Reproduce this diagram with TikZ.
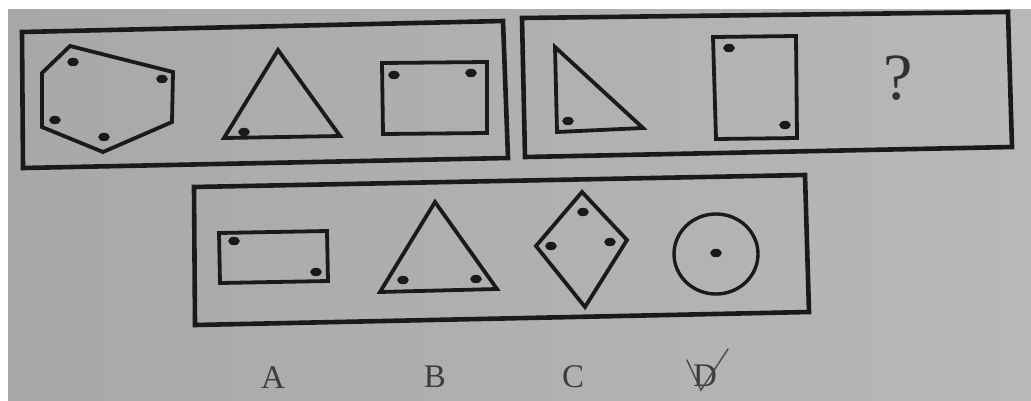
\documentclass[tikz,border=0pt]{standalone}
\usepackage{fontspec}
\setmainfont{Liberation Serif}
\definecolor{paperL}{RGB}{168,168,168}
\definecolor{paperR}{RGB}{184,184,184}
\definecolor{ink}{RGB}{26,26,26}
\tikzset{
  frame/.style={draw=ink, line width=4.6pt, line join=miter},
  outline/.style={draw=ink, line width=3.8pt, line join=miter},
  dot/.style={fill=ink, draw=none},
  lab/.style={text=ink!85, font=\fontsize{33}{33}\selectfont, inner sep=0pt}
}
\newcommand{\spot}[2]{\fill[dot] (#1,#2) ellipse [x radius=5.8pt, y radius=4.2pt];}
\begin{document}
\begin{tikzpicture}[x=1pt,y=-1pt]
\useasboundingbox (0,0) rectangle (1031,400);
% background (photo of paper)
\fill[white] (0,0) rectangle (1031,400);
\shade[left color=paperL, right color=paperR] (8,9) rectangle (1031,400);

% ---- top-left panel ----
\draw[frame] (22,32) -- (503,21) -- (508,158) -- (23,168) -- cycle;
\draw[outline] (70,46) -- (173,72) -- (172,122) -- (103,152) -- (42,127) -- (42,73) -- cycle;
\spot{73}{62}\spot{162}{79}\spot{55}{120}\spot{104}{137}
\draw[outline] (278,50) -- (340,136) -- (224,138) -- cycle;
\spot{244}{132}
\draw[outline] (382,63) -- (487,62) -- (487,133) -- (383,134) -- cycle;
\spot{394}{75}\spot{471}{73}

% ---- top-right panel ----
\draw[frame] (522,18) -- (1008,12) -- (1012,147) -- (525,157) -- cycle;
\draw[outline] (555,47) -- (643,128) -- (557,132) -- cycle;
\spot{568}{121}
\draw[outline] (713,37) -- (796,36) -- (797,138) -- (716,139) -- cycle;
\spot{729}{48}\spot{785}{125}
\node[text=ink!90, font=\fontsize{66}{66}\selectfont, inner sep=0pt] (q) at (898,78) {?};

% ---- answer panel ----
\draw[frame] (194,187) -- (805,175) -- (809,312) -- (195,325) -- cycle;
\draw[outline] (219,233) -- (327,231) -- (328,281) -- (220,283) -- cycle;
\spot{234}{241}\spot{316}{272}
\draw[outline] (435,202) -- (497,289) -- (380,292) -- cycle;
\spot{403}{280}\spot{476}{279}
\draw[outline] (582,192) -- (627,240) -- (585,307) -- (536,246) -- cycle;
\spot{583}{212}\spot{551}{246}\spot{610}{242}
\draw[draw=ink, line width=3.4pt] (716,254) ellipse [x radius=42pt, y radius=40pt];
\spot{716}{253}

% ---- labels ----
\node[lab] (la) at (273,378) {A};
\node[lab] (lb) at (435,377) {B};
\node[lab] (lc) at (573,377) {C};
\node[lab] (ld) at (705,376) {D};
\draw[ink!80, line width=1.4pt, line cap=round] (687,360) -- (701,390) -- (728,349);
\end{tikzpicture}
\end{document}
